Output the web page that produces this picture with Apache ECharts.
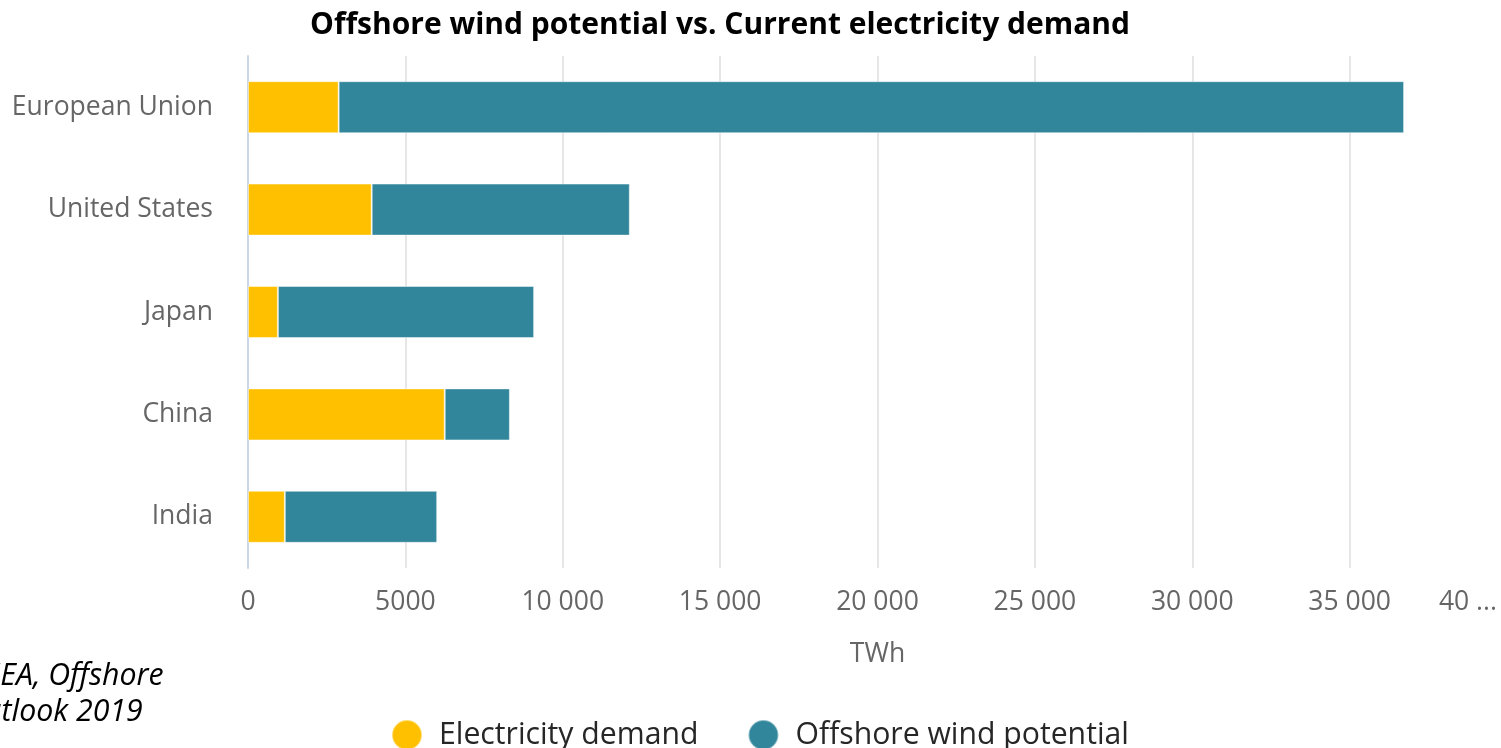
<!DOCTYPE html>
<html>
<head>
<meta charset="utf-8">
<script src="https://cdn.jsdelivr.net/npm/echarts@6/dist/echarts.min.js"></script>
<style>
  html, body { margin: 0; padding: 0; background: #ffffff; overflow: hidden; }
  #chart { width: 1507px; height: 748px; }
</style>
</head>
<body>
<div id="chart"></div>
<script>
// Regions, top to bottom
const regions = ['European Union', 'United States', 'Japan', 'China', 'India'];
// Current electricity demand, TWh
const electricityDemand = [2880, 3930, 950, 6250, 1170];
// Offshore wind technical potential beyond current demand, TWh (stacked on top)
const offshoreWindPotential = [33850, 8200, 8140, 2070, 4840];
// Value axis settings
const xMin = 0;
const xMax = 40000;
const xStep = 5000;

const FONT = '"Open Sans", "Noto Sans", sans-serif';

function formatTWh(v) {
  const s = String(v);
  return v >= 10000 ? s.replace(/\B(?=(\d{3})+(?!\d))/g, ' ') : s;
}

const chart = echarts.init(document.getElementById('chart'), null, { renderer: 'canvas' });

chart.setOption({
  animation: false,
  backgroundColor: '#ffffff',
  title: {
    text: 'Offshore wind potential vs. Current electricity demand',
    left: 715,
    textAlign: 'center',
    top: 5,
    textStyle: { fontFamily: FONT, fontSize: 30, fontWeight: 'bold', color: '#000000' }
  },
  legend: {
    bottom: -3,
    left: 391,
    padding: 0,
    icon: 'circle',
    itemWidth: 30,
    itemHeight: 30,
    itemGap: 49,
    textStyle: { fontFamily: FONT, fontSize: 30.2, color: '#262626', padding: [0, 0, 0, 12] },
    data: ['Electricity demand', 'Offshore wind potential']
  },
  graphic: [{
    type: 'text',
    left: -114,
    top: 658,
    style: {
      text: 'Source: IEA, Offshore\nWind Outlook 2019',
      font: 'italic 30.3px ' + FONT,
      fill: '#000000',
      lineHeight: 36
    }
  }],
  grid: { left: 248, right: 0, top: 56, bottom: 180, containLabel: false },
  xAxis: {
    type: 'value',
    min: xMin,
    max: xMax,
    interval: xStep,
    name: 'TWh',
    nameLocation: 'middle',
    nameGap: 73,
    nameTextStyle: { fontFamily: FONT, fontSize: 26.5, color: '#666666' },
    axisLine: { show: false },
    axisTick: { show: false },
    splitLine: { show: true, lineStyle: { color: '#e6e6e6', width: 2 } },
    axisLabel: {
      fontFamily: FONT,
      fontSize: 26.5,
      color: '#666666',
      margin: 21,
      alignMaxLabel: 'right',
      formatter: function (v) {
        return v === xMax ? '{last|' + formatTWh(v).slice(0, 2) + ' ...}' : formatTWh(v);
      },
      rich: {
        last: { fontFamily: FONT, fontSize: 26.5, color: '#666666', padding: [0, 10, 0, 0] }
      }
    }
  },
  yAxis: {
    type: 'category',
    inverse: true,
    data: regions,
    axisLine: { show: true, lineStyle: { color: '#ccd6eb', width: 2 } },
    axisTick: { show: false },
    axisLabel: { fontFamily: FONT, fontSize: 26.5, color: '#666666', margin: 35 }
  },
  series: [
    {
      name: 'Electricity demand',
      type: 'bar',
      stack: 'total',
      barWidth: 52,
      data: electricityDemand,
      itemStyle: { color: '#FFC000', borderColor: 'rgba(255,255,255,0.45)', borderWidth: 1 }
    },
    {
      name: 'Offshore wind potential',
      type: 'bar',
      stack: 'total',
      barWidth: 52,
      data: offshoreWindPotential,
      itemStyle: { color: '#31869B', borderColor: 'rgba(255,255,255,0.45)', borderWidth: 1 }
    }
  ]
});
</script>
</body>
</html>
